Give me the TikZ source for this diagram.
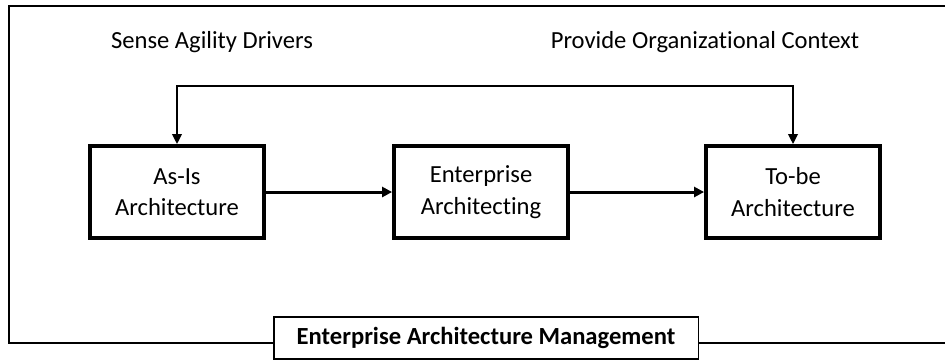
\documentclass[tikz,border=0pt]{standalone}
\usepackage{fontspec}
\setmainfont[Ligatures=NoCommon]{Carlito}
\usetikzlibrary{arrows.meta}
\begin{document}
\begin{tikzpicture}[
  x=0.02cm, y=-0.02cm,
  block/.style={rectangle, draw, line width=2.2pt, minimum width=3.48cm, minimum height=1.84cm, align=center, font=\fontsize{14}{18}\selectfont},
  label/.style={font=\fontsize{14}{17}\selectfont},
  flow/.style={-{Triangle[length=2mm,width=2mm]}, line width=1.7pt},
  loop/.style={{Triangle[length=2mm,width=1.9mm]}-{Triangle[length=2mm,width=1.9mm]}, line width=1.2pt},
  frame/.style={line width=1.1pt}
]
\useasboundingbox (0,0) rectangle (945,360);

\node[block] (asis) at (177,192) {As-Is\\Architecture};
\node[block] (eat) at (481,192) {Enterprise\\Architecting};
\node[block] (tobe) at (793,192) {To-be\\Architecture};

\node[label] (sense) at (212,42) {Sense Agility Drivers};
\node[label] (context) at (705,42) {Provide Organizational Context};

\node[rectangle, draw, line width=1.1pt, minimum width=8.5cm, minimum height=0.84cm,
  font=\fontsize{14}{17}\selectfont\bfseries] (eam) at (486,338) {Enterprise Architecture Management};

% Frame
\coordinate (frameBL) at (9,343);
\coordinate (frameTR) at (946,6);
\coordinate (frameBR) at (946,343);
\draw[frame] (eam.west |- frameBL) -- (frameBL) |- (frameTR);
\draw[frame] (eam.east |- frameBR) -- (frameBR);

% Arrows
\draw[flow] (asis) -- (eat);
\draw[flow] (eat) -- (tobe);

% Feedback loop
\draw[loop] (asis.north) -- ++(0,-58) -| (tobe.north);
\end{tikzpicture}
\end{document}
